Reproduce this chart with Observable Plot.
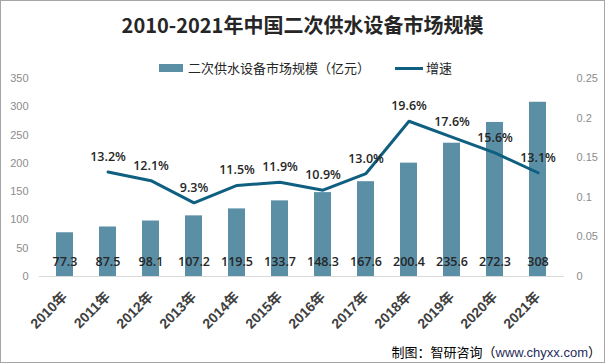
<!DOCTYPE html>
<html>
<head>
<meta charset="utf-8">
<script src="https://cdn.jsdelivr.net/npm/d3@7"></script>
<script src="https://cdn.jsdelivr.net/npm/@observablehq/plot@0.6"></script>
<style>
  html, body { margin: 0; padding: 0; background: #fff; }
  #wrap { position: relative; width: 605px; height: 363px; overflow: hidden; background: #fff;
          font-family: "Liberation Sans", "Noto Sans CJK SC", sans-serif; }
  #wrap svg { position: absolute; left: 0; top: 0; }
  #border { position: absolute; left: 0; top: 0; width: 605px; height: 363px; box-sizing: border-box;
            border: 1px solid #a6a6a6; pointer-events: none; }
  #title { position: absolute; left: 0; width: 605px; top: 12px; text-align: center;
           font-family: "Noto Sans CJK SC", sans-serif; font-weight: bold; font-size: 20px; color: #262626; line-height: 26px; }
  .leg { position: absolute; top: 59px; font-family: "Noto Sans CJK SC", sans-serif; font-size: 13px; color: #262626; line-height: 17px; white-space: nowrap; }
  .sw-bar { display: inline-block; width: 24px; height: 8px; vertical-align: middle; margin-right: 5px; position: relative; top: -1px; }
  .sw-line { display: inline-block; width: 28px; height: 3px; vertical-align: middle; margin-right: 3px; position: relative; top: -1px; }
  #caption { position: absolute; right: 4px; top: 343px; font-family: "Noto Sans CJK SC", sans-serif; font-size: 13px; color: #000; line-height: 18px; white-space: nowrap; }
  #caption .url { font-family: "Liberation Sans", sans-serif; color: #1f2d5a; }
</style>
</head>
<body>
<div id="wrap">
  <div id="title">2010-2021年中国二次供水设备市场规模</div>
  <div class="leg" id="leg1" style="left:159px"><span class="sw-bar" id="swb"></span>二次供水设备市场规模（亿元）</div>
  <div class="leg" id="leg2" style="left:395px"><span class="sw-line" id="swl"></span>增速</div>
  <div id="caption">制图：智研咨询（<span class="url">www.chyxx.com</span>）</div>
  <div id="border"></div>
</div>
<script>
// ---- data ----
const years = ["2010年","2011年","2012年","2013年","2014年","2015年","2016年","2017年","2018年","2019年","2020年","2021年"];
const marketSize = [77.3, 87.5, 98.1, 107.2, 119.5, 133.7, 148.3, 167.6, 200.4, 235.6, 272.3, 308];
const growthPct = [null, 13.2, 12.1, 9.3, 11.5, 11.9, 10.9, 13.0, 19.6, 17.6, 15.6, 13.1];
const leftTicks = [0, 50, 100, 150, 200, 250, 300, 350];
const rightTicks = [0, 0.05, 0.1, 0.15, 0.2, 0.25];

const barColor = "#5b8fa6";
const lineColor = "#0e5f80";
document.getElementById("swb").style.background = barColor;
document.getElementById("swl").style.background = lineColor;

// right axis (fraction) mapped onto left axis domain
const leftMax = leftTicks[leftTicks.length - 1];
const rightMax = rightTicks[rightTicks.length - 1];
const k = leftMax / rightMax;

const rows = years.map((year, i) => ({year, value: marketSize[i]}));
const rateRows = years.map((year, i) => ({year, rate: growthPct[i]})).filter(d => d.rate != null);

const font = "'Liberation Sans', 'Noto Sans CJK SC', sans-serif";
const labelFont = "'Open Sans', 'Liberation Sans', sans-serif";

const chart = Plot.plot({
  width: 605,
  height: 363,
  marginLeft: 39,
  marginRight: 41,
  marginTop: 78,
  marginBottom: 87,
  style: {fontFamily: font, background: "transparent", overflow: "visible"},
  x: {domain: years, paddingInner: 0.6, paddingOuter: 0.3, label: null},
  y: {domain: [0, leftMax], label: null},
  marks: [
    Plot.barY(rows, {x: "year", y: "value", fill: barColor}),
    Plot.ruleY([0], {stroke: "#d9d9d9", strokeWidth: 1}),
    Plot.axisY({ticks: leftTicks, tickSize: 0, tickPadding: 11, fontSize: 11, color: "#8c8c8c", label: null, tickFormat: d => String(d)}),
    Plot.axisY({anchor: "right", ticks: rightTicks.map(t => t * k), tickSize: 0, tickPadding: 12, fontSize: 11, color: "#8c8c8c", label: null,
      tickFormat: d => String(+(d / k).toFixed(2))}),
    Plot.axisX({tickRotate: -45, tickSize: 0, tickPadding: 18, fontSize: 14, fontWeight: "bold", color: "#404040", label: null}),
    Plot.line(rateRows, {x: "year", y: d => d.rate / 100 * k, stroke: lineColor, strokeWidth: 3}),
    Plot.text(rows, {x: "year", text: d => String(d.value), frameAnchor: "bottom", dy: -11, fontSize: 12.5, fill: "#262626", fontWeight: 600, fontFamily: labelFont}),
    Plot.text(rateRows, {x: "year", y: d => d.rate / 100 * k, text: d => d.rate.toFixed(1) + "%", dy: -15, fontSize: 12.5, fill: "#262626", fontWeight: 600, fontFamily: labelFont})
  ]
});
document.getElementById("wrap").insertBefore(chart, document.getElementById("title"));
</script>
</body>
</html>
